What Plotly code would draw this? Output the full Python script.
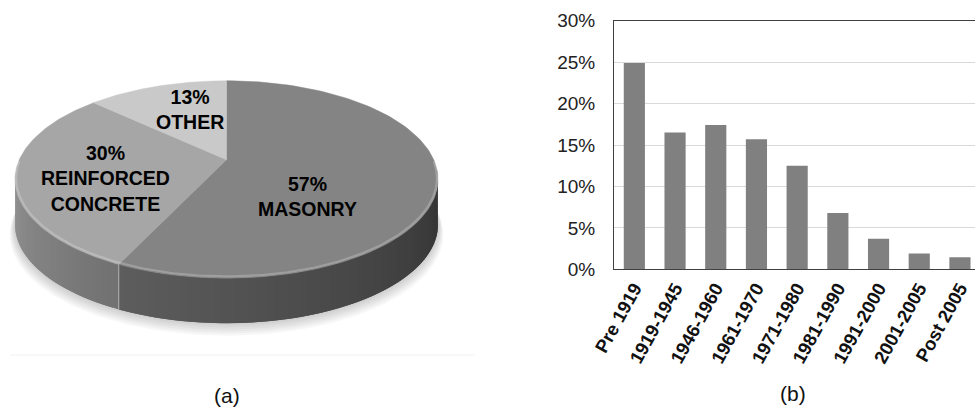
import numpy as np
import plotly.graph_objects as go

# ---------------- data ----------------
pie_labels = ["57%<br>MASONRY", "30%<br>REINFORCED<br>CONCRETE", "13%<br>OTHER"]
pie_values = [57, 30, 13]
pie_colors = ["#848484", "#a6a6a6", "#c9c9c9"]

periods = ["Pre 1919", "1919-1945", "1946-1960", "1961-1970", "1971-1980",
           "1981-1990", "1991-2000", "2001-2005", "Post 2005"]
shares = [24.9, 16.5, 17.4, 15.7, 12.5, 6.8, 3.7, 1.9, 1.45]

# ---------------- pie geometry (pixel space of left panel) ----------------
CX, CY, A, B, P, DEPTH = 226.5, 179.5, 211.5, 98.7, 0.2, 45
label_xy = [(307, 196.5), (105, 178), (190, 109)]
rim_shades = [(0x5e, 0x34), (0x93, 0x72), (0xa8, 0xa8)]  # (front/left end, right end)
FONT = "Liberation Sans, Arial, sans-serif"


def proj(theta_deg, r=1.0):
    t = np.radians(theta_deg)
    s = r * np.sin(t)
    c = r * np.cos(t)
    d = 1 + P * c
    x = CX + A * np.sqrt(1 - P * P) * s / d
    v = c / d
    vc = -P / (1 - P * P)
    y = CY - B * (1 - P * P) * (v - vc)
    return x, y


fig = go.Figure()

# shadow under the disc
full = np.linspace(0, 360, 241)
for k in range(7):
    xs, ys = proj(full, 1.0 + 0.004 * k)
    fig.add_trace(go.Scatter(x=xs, y=ys + DEPTH + 1.5 * k, fill="toself", mode="lines",
                             line=dict(width=0, color="rgba(0,0,0,0)"),
                             fillcolor="rgba(0,0,0,0.03)", hoverinfo="skip",
                             showlegend=False, xaxis="x2", yaxis="y2"))

# slice angle ranges (clockwise from 12 o'clock)
total = sum(pie_values)
bounds = np.concatenate([[0], np.cumsum(pie_values) / total * 360])
vis_lo = np.degrees(np.arccos(-P))          # right-most silhouette
vis_hi = 360 - vis_lo                       # left-most silhouette

# rim (side wall) strips, each overlapping the next to avoid seams
for i in range(len(pie_values)):
    a0, a1 = max(bounds[i], vis_lo), min(bounds[i + 1], vis_hi)
    if a1 <= a0:
        continue
    n = max(int((a1 - a0) / 1.5), 2)
    edges = np.linspace(a0, a1, n + 1)
    s_near, s_far = rim_shades[i]
    for j in range(n - 1, -1, -1):
        hi = edges[min(j + 2, n)]
        ang = np.linspace(edges[j], hi, 6)
        xt, yt = proj(ang)
        xs = np.concatenate([xt, xt[::-1]])
        ys = np.concatenate([yt, yt[::-1] + DEPTH])
        f = (0.5 * (edges[j] + edges[j + 1]) - a0) / (a1 - a0)
        g = int(round(s_far + (s_near - s_far) * f))
        col = f"rgb({g},{g},{g})"
        fig.add_trace(go.Scatter(x=xs, y=ys, fill="toself", mode="lines",
                                 line=dict(width=0, color=col), fillcolor=col,
                                 hoverinfo="skip", showlegend=False,
                                 xaxis="x2", yaxis="y2"))

# slice boundary highlight on the rim
for b in bounds[1:-1]:
    if vis_lo < b < vis_hi:
        bx, by = proj(b)
        fig.add_trace(go.Scatter(x=[bx, bx], y=[by, by + DEPTH], mode="lines",
                                 line=dict(width=1.2, color="rgba(255,255,255,0.35)"),
                                 hoverinfo="skip", showlegend=False,
                                 xaxis="x2", yaxis="y2"))

# top faces
for i in range(len(pie_values)):
    ang = np.linspace(bounds[i], bounds[i + 1], 120)
    xa, ya = proj(ang)
    x0, y0 = proj(0, 0)
    xs = np.concatenate([[x0], xa, [x0]])
    ys = np.concatenate([[y0], ya, [y0]])
    fig.add_trace(go.Scatter(x=xs, y=ys, fill="toself", mode="lines",
                             line=dict(width=0.5, color=pie_colors[i]),
                             fillcolor=pie_colors[i], hoverinfo="skip",
                             showlegend=False, xaxis="x2", yaxis="y2"))

# bevel highlight along the front edge
ang = np.linspace(vis_lo - 10, vis_hi + 10, 200)
xh, yh = proj(ang, 0.995)
fig.add_trace(go.Scatter(x=xh, y=yh - 1, mode="lines",
                         line=dict(width=2.2, color="rgba(255,255,255,0.22)"),
                         hoverinfo="skip", showlegend=False, xaxis="x2", yaxis="y2"))

# pie labels
for (lx, ly), txt in zip(label_xy, pie_labels):
    fig.add_annotation(x=lx, y=ly, xref="x2", yref="y2", text=txt, showarrow=False,
                       font=dict(family=FONT, size=19.5, color="#000000", weight="bold"),
                       align="center", xanchor="center", yanchor="middle")

# ---------------- bar chart ----------------
fig.add_trace(go.Bar(x=periods, y=shares, marker=dict(color="#808080", line=dict(width=0)),
                     width=0.52, hoverinfo="skip", showlegend=False,
                     xaxis="x", yaxis="y"))

x_left = 614 / 975
y_bot = (408 - 269.3) / 408
y_top = (408 - 20.7) / 408

fig.update_layout(
    width=975, height=408,
    margin=dict(l=0, r=0, t=0, b=0, pad=0),
    paper_bgcolor="white", plot_bgcolor="white",
    font=dict(family=FONT),
    xaxis=dict(domain=[x_left, 1.0], range=[-0.5, 8.37], type="category",
               tickangle=-61, showgrid=False, showline=True, linecolor="#404040",
               linewidth=1, mirror=True, ticks="", zeroline=False, automargin=False,
               tickfont=dict(family=FONT, size=18.5, color="#111111", weight="bold"),
               anchor="y"),
    yaxis=dict(domain=[y_bot, y_top], range=[0, 30], dtick=5, ticksuffix="%",
               showgrid=True, gridcolor="#d9d9d9", gridwidth=1,
               showline=True, linecolor="#404040", linewidth=1, ticks="",
               zeroline=False, ticklabelstandoff=14, automargin=False,
               tickfont=dict(family=FONT, size=19, color="#222222"), anchor="x"),
    xaxis2=dict(domain=[0, 480 / 975], range=[0, 480], visible=False, anchor="y2",
                automargin=False),
    yaxis2=dict(domain=[0, 1], range=[408, 0], visible=False, anchor="x2",
                automargin=False),
    shapes=[dict(type="line", xref="paper", yref="paper", x0=10 / 975, x1=475 / 975,
                 y0=(408 - 355) / 408, y1=(408 - 355) / 408,
                 line=dict(color="#f1f1f1", width=1))],
)

fig.add_annotation(x=227 / 975, y=(408 - 395) / 408, xref="paper", yref="paper",
                   text="(a)", showarrow=False, xanchor="center", yanchor="middle",
                   font=dict(family=FONT, size=21, color="#111111"))
fig.add_annotation(x=793 / 975, y=(408 - 393) / 408, xref="paper", yref="paper",
                   text="(b)", showarrow=False, xanchor="center", yanchor="middle",
                   font=dict(family=FONT, size=21, color="#111111"))

fig.write_html("out.html")
